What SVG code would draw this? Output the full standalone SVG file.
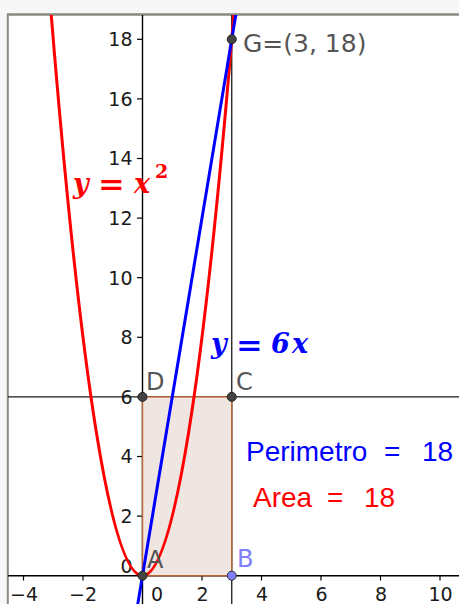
<svg xmlns="http://www.w3.org/2000/svg" width="459" height="604" viewBox="0 0 459 604">
<defs>
<clipPath id="plot"><rect x="8" y="15" width="451" height="589"/></clipPath>
<style>
.ax{stroke:#000;stroke-width:1.4;fill:none}
.ln{stroke:#1a1a1a;stroke-width:1.3;fill:none}
.tk{stroke:#000;stroke-width:1.2}
.tl{font-family:"DejaVu Sans",sans-serif;font-size:19px;fill:#1a1a1a}
.pl{font-family:"DejaVu Sans",sans-serif;font-size:24px;fill:#555}
.pt{fill:#444;stroke:#222;stroke-width:1}
.big{font-family:"Liberation Sans",Arial,sans-serif;font-size:28px}
.math{font-family:"DejaVu Serif","Liberation Serif",serif;font-size:27px;font-weight:bold;font-style:italic}
.eq{font-family:"DejaVu Sans",sans-serif;font-weight:bold;font-size:22px}
</style>
</defs>
<rect x="0" y="0" width="459" height="604" fill="#f7f7f7"/>
<rect x="8" y="15" width="451" height="589" fill="#fff"/>
<line x1="7" y1="14.5" x2="459" y2="14.5" stroke="#8a8a7e" stroke-width="2.5"/>
<line x1="7.8" y1="14" x2="7.8" y2="604" stroke="#8a8a7e" stroke-width="2"/>

<g id="axes" clip-path="url(#plot)">
<line class="ax" x1="8" y1="575.7" x2="459" y2="575.7"/>
<line class="ax" x1="142.5" y1="15" x2="142.5" y2="604"/>
<g class="tk">
<line x1="23.5" y1="575.7" x2="23.5" y2="580.5"/>
<line x1="83" y1="575.7" x2="83" y2="580.5"/>
<line x1="202" y1="575.7" x2="202" y2="580.5"/>
<line x1="261.5" y1="575.7" x2="261.5" y2="580.5"/>
<line x1="321" y1="575.7" x2="321" y2="580.5"/>
<line x1="380.5" y1="575.7" x2="380.5" y2="580.5"/>
<line x1="440" y1="575.7" x2="440" y2="580.5"/>
<line x1="137" y1="516.1" x2="142.5" y2="516.1"/>
<line x1="137" y1="456.5" x2="142.5" y2="456.5"/>
<line x1="137" y1="396.9" x2="142.5" y2="396.9"/>
<line x1="137" y1="337.3" x2="142.5" y2="337.3"/>
<line x1="137" y1="277.7" x2="142.5" y2="277.7"/>
<line x1="137" y1="218.1" x2="142.5" y2="218.1"/>
<line x1="137" y1="158.5" x2="142.5" y2="158.5"/>
<line x1="137" y1="98.9" x2="142.5" y2="98.9"/>
<line x1="137" y1="39.3" x2="142.5" y2="39.3"/>
</g>
<g class="tl" text-anchor="middle">
<text x="24" y="601">−4</text>
<text x="83" y="601">−2</text>
<text x="157" y="601">0</text>
<text x="202.5" y="601">2</text>
<text x="262" y="601">4</text>
<text x="321.5" y="601">6</text>
<text x="381" y="601">8</text>
<text x="440.5" y="601">10</text>
</g>
<g class="tl" text-anchor="end">
<text x="132.5" y="573">0</text>
<text x="132.5" y="523">2</text>
<text x="132.5" y="463.4">4</text>
<text x="132.5" y="403.8">6</text>
<text x="132.5" y="344.2">8</text>
<text x="132.5" y="284.6">10</text>
<text x="132.5" y="225">12</text>
<text x="132.5" y="165.4">14</text>
<text x="132.5" y="105.8">16</text>
<text x="132.5" y="46.2">18</text>
</g>
</g>

<g id="connectors" clip-path="url(#plot)">
<line id="line-y6" class="ln" x1="8" y1="396.9" x2="459" y2="396.9"/>
<line id="line-x3" class="ln" x1="231.75" y1="15" x2="231.75" y2="604"/>
<rect id="rectangle" x="142.5" y="396.9" width="89.25" height="178.8" fill="#f0e6e1" stroke="#b8652f" stroke-width="1.4"/>
<path id="parabola" d="M 50.275 2.944 Q 142.5 1148.456 234.725 2.944" fill="none" stroke="#ff0000" stroke-width="3"/>
<path id="line-6x" d="M 137.54 605.5 L 237.7 3.54" fill="none" stroke="#0000ff" stroke-width="3"/>
</g>

<g id="A"><circle class="pt" cx="142.5" cy="575.7" r="4.5"/><text class="pl" x="147" y="568">A</text></g>
<g id="B"><circle cx="231.75" cy="575.7" r="4.5" fill="#7f7fff" stroke="#333" stroke-width="1"/><text class="pl" x="237" y="567" style="fill:#8080ff">B</text></g>
<g id="C"><circle class="pt" cx="231.75" cy="396.9" r="4.5"/><text class="pl" x="236" y="390">C</text></g>
<g id="D"><circle class="pt" cx="142.5" cy="396.9" r="4.5"/><text class="pl" x="146" y="390">D</text></g>
<g id="G"><circle class="pt" cx="231.75" cy="39.3" r="4.5"/><text class="pl" x="243" y="51.5" style="font-size:25px">G=(3, 18)</text></g>

<g id="label-parabola" fill="#ff0000">
<text class="math" x="73" y="193">y</text>
<text class="eq" transform="translate(98 194) scale(1.45 1.3)">=</text>
<text class="math" x="134" y="193">x<tspan x="155" y="178" style="font-size:19px;font-style:normal">2</tspan></text>
</g>
<g id="label-line" fill="#0000ff">
<text class="math" x="211" y="353">y</text>
<text class="eq" transform="translate(236 355) scale(1.45 1.3)">=</text>
<text class="math" x="271" y="353">6<tspan x="292" y="353">x</tspan></text>
</g>

<g id="perimetro"><text class="big" fill="#0000ff"><tspan x="246" y="461">Perimetro</tspan><tspan x="384" y="461">=</tspan><tspan x="422" y="461">18</tspan></text></g>
<g id="area"><text class="big" fill="#ff0000"><tspan x="253" y="507">Area</tspan><tspan x="327" y="507">=</tspan><tspan x="364" y="507">18</tspan></text></g>
</svg>
